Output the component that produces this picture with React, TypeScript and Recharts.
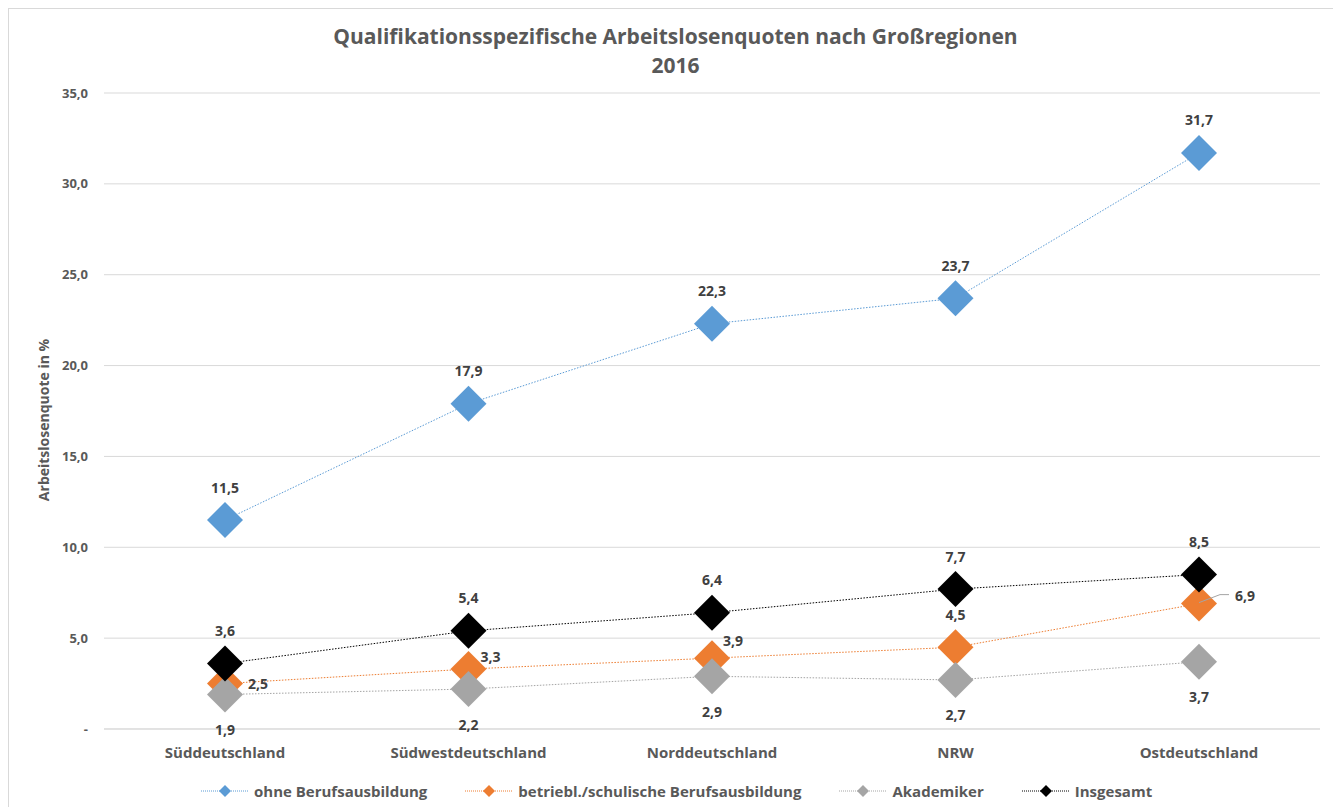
import React from "react";
import { LineChart, Line, XAxis, YAxis, CartesianGrid, LabelList } from "recharts";

const categories = ["Süddeutschland", "Südwestdeutschland", "Norddeutschland", "NRW", "Ostdeutschland"];
const ohneBerufsausbildung = [11.5, 17.9, 22.3, 23.7, 31.7];
const betrieblSchulisch = [2.5, 3.3, 3.9, 4.5, 6.9];
const akademiker = [1.9, 2.2, 2.9, 2.7, 3.7];
const insgesamt = [3.6, 5.4, 6.4, 7.7, 8.5];
const yTicks = [0, 5, 10, 15, 20, 25, 30, 35];

const titleLine1 = "Qualifikationsspezifische Arbeitslosenquoten nach Großregionen";
const titleLine2 = "2016";
const yAxisTitle = "Arbeitslosenquote in %";

const series = [
  { key: "ohne", name: "ohne Berufsausbildung", color: "#5B9BD5", values: ohneBerufsausbildung },
  { key: "betr", name: "betriebl./schulische Berufsausbildung", color: "#ED7D31", values: betrieblSchulisch },
  { key: "akad", name: "Akademiker", color: "#A5A5A5", values: akademiker },
  { key: "ges", name: "Insgesamt", color: "#000000", values: insgesamt },
];

const data = categories.map((c, i) => {
  const row: any = { cat: c };
  series.forEach((s) => (row[s.key] = s.values[i]));
  return row;
});

const FONT = "'Open Sans', sans-serif";
const TEXT = "#595959";
const LABEL = "#404040";

const fmt = (v: number) => (v === 0 ? "-" : v.toFixed(1).replace(".", ","));

const makeDot = (color: string, half: number) => (props: any) => {
  const { cx, cy, index } = props;
  if (cx == null || cy == null) return <g key={index} />;
  return (
    <polygon
      key={index}
      points={`${cx},${cy - half} ${cx + half},${cy} ${cx},${cy + half} ${cx - half},${cy}`}
      fill={color}
      stroke="none"
    />
  );
};

const labelText = (x: number, y: number, v: number, key: any, anchor = "middle") => (
  <text
    key={key}
    x={x}
    y={y}
    textAnchor={anchor}
    dominantBaseline="central"
    fontFamily={FONT}
    fontWeight={700}
    fontSize={14}
    fill={LABEL}
  >
    {fmt(v)}
  </text>
);

const aboveLabel = (props: any) => {
  const { x, y, value, index } = props;
  return labelText(x, y - 33, value, index);
};
const belowLabel = (props: any) => {
  const { x, y, value, index } = props;
  return labelText(x, y + 35, value, index);
};
const betrLabel = (props: any) => {
  const { x, y, value, index } = props;
  if (index === 0) return labelText(x + 33, y, value, index);
  if (index === 1) return labelText(x + 22, y - 13, value, index);
  if (index === 2) return labelText(x + 21, y - 18, value, index);
  if (index === 3) return labelText(x, y - 33, value, index);
  return (
    <g key={index}>
      <polyline
        points={`${x},${y - 1} ${x + 21},${y - 9} ${x + 30},${y - 9}`}
        fill="none"
        stroke="#A5A5A5"
        strokeWidth={1}
      />
      {labelText(x + 46, y - 8, value, "t")}
    </g>
  );
};

const LegendIcon = ({ color }: { color: string }) => (
  <svg width={48} height={14} style={{ display: "block" }}>
    <line x1={0} y1={7} x2={48} y2={7} stroke={color} strokeWidth={1} strokeDasharray="1 1" />
    <polygon points="24,1 30,7 24,13 18,7" fill={color} />
  </svg>
);

export default function App() {
  return (
    <div
      style={{
        position: "relative",
        width: 1331,
        height: 810,
        border: "1px solid #d9d9d9",
        background: "#fff",
        fontFamily: FONT,
        overflow: "hidden",
      }}
    >
      <div
        style={{
          position: "absolute",
          left: 0,
          width: 1333,
          top: 13,
          textAlign: "center",
          color: TEXT,
          fontWeight: 700,
          fontSize: 21,
          lineHeight: "29px",
        }}
      >
        <div>{titleLine1}</div>
        <div>{titleLine2}</div>
      </div>
      <div
        style={{
          position: "absolute",
          left: 35 - 100,
          top: 402,
          width: 200,
          textAlign: "center",
          transform: "rotate(-90deg)",
          color: TEXT,
          fontWeight: 700,
          fontSize: 14,
          lineHeight: "18px",
          whiteSpace: "nowrap",
        }}
      >
        {yAxisTitle}
      </div>
      <div style={{ position: "absolute", left: 0, top: 0 }}>
        <LineChart
          width={1333}
          height={799}
          data={data}
          margin={{ top: 84, right: 22, bottom: 49, left: 35 }}
        >
          <CartesianGrid vertical={false} stroke="#d9d9d9" strokeWidth={1} />
          <XAxis
            dataKey="cat"
            axisLine={{ stroke: "#d9d9d9" }}
            tickLine={false}
            height={30}
            tickMargin={12}
            padding={{ left: 121, right: 121 }}
            tick={{ fill: TEXT, fontFamily: FONT, fontWeight: 700, fontSize: 15 }}
          />
          <YAxis
            width={60}
            domain={[0, 35]}
            ticks={yTicks}
            axisLine={false}
            tickLine={false}
            tickSize={0}
            tickMargin={16}
            tickFormatter={fmt}
            tick={{ fill: TEXT, fontFamily: FONT, fontWeight: 700, fontSize: 13 }}
          />
          {series.map((s) => (
            <Line
              key={s.key}
              dataKey={s.key}
              name={s.name}
              type="linear"
              stroke={s.color}
              strokeWidth={1}
              strokeDasharray="1.5 1.5"
              dot={makeDot(s.color, 18)}
              activeDot={false}
              isAnimationActive={false}
            >
              <LabelList
                dataKey={s.key}
                content={
                  s.key === "akad" ? belowLabel : s.key === "betr" ? betrLabel : aboveLabel
                }
              />
            </Line>
          ))}
        </LineChart>
      </div>
      <div
        style={{
          position: "absolute",
          top: 772,
          left: 192,
          display: "flex",
          alignItems: "center",
          color: TEXT,
          fontWeight: 700,
          fontSize: 15,
          whiteSpace: "nowrap",
        }}
      >
        {series.map((s) => (
          <div key={s.key} style={{ display: "flex", alignItems: "center", marginRight: 38 }}>
            <LegendIcon color={s.color} />
            <span style={{ marginLeft: 5 }}>{s.name}</span>
          </div>
        ))}
      </div>
    </div>
  );
}
